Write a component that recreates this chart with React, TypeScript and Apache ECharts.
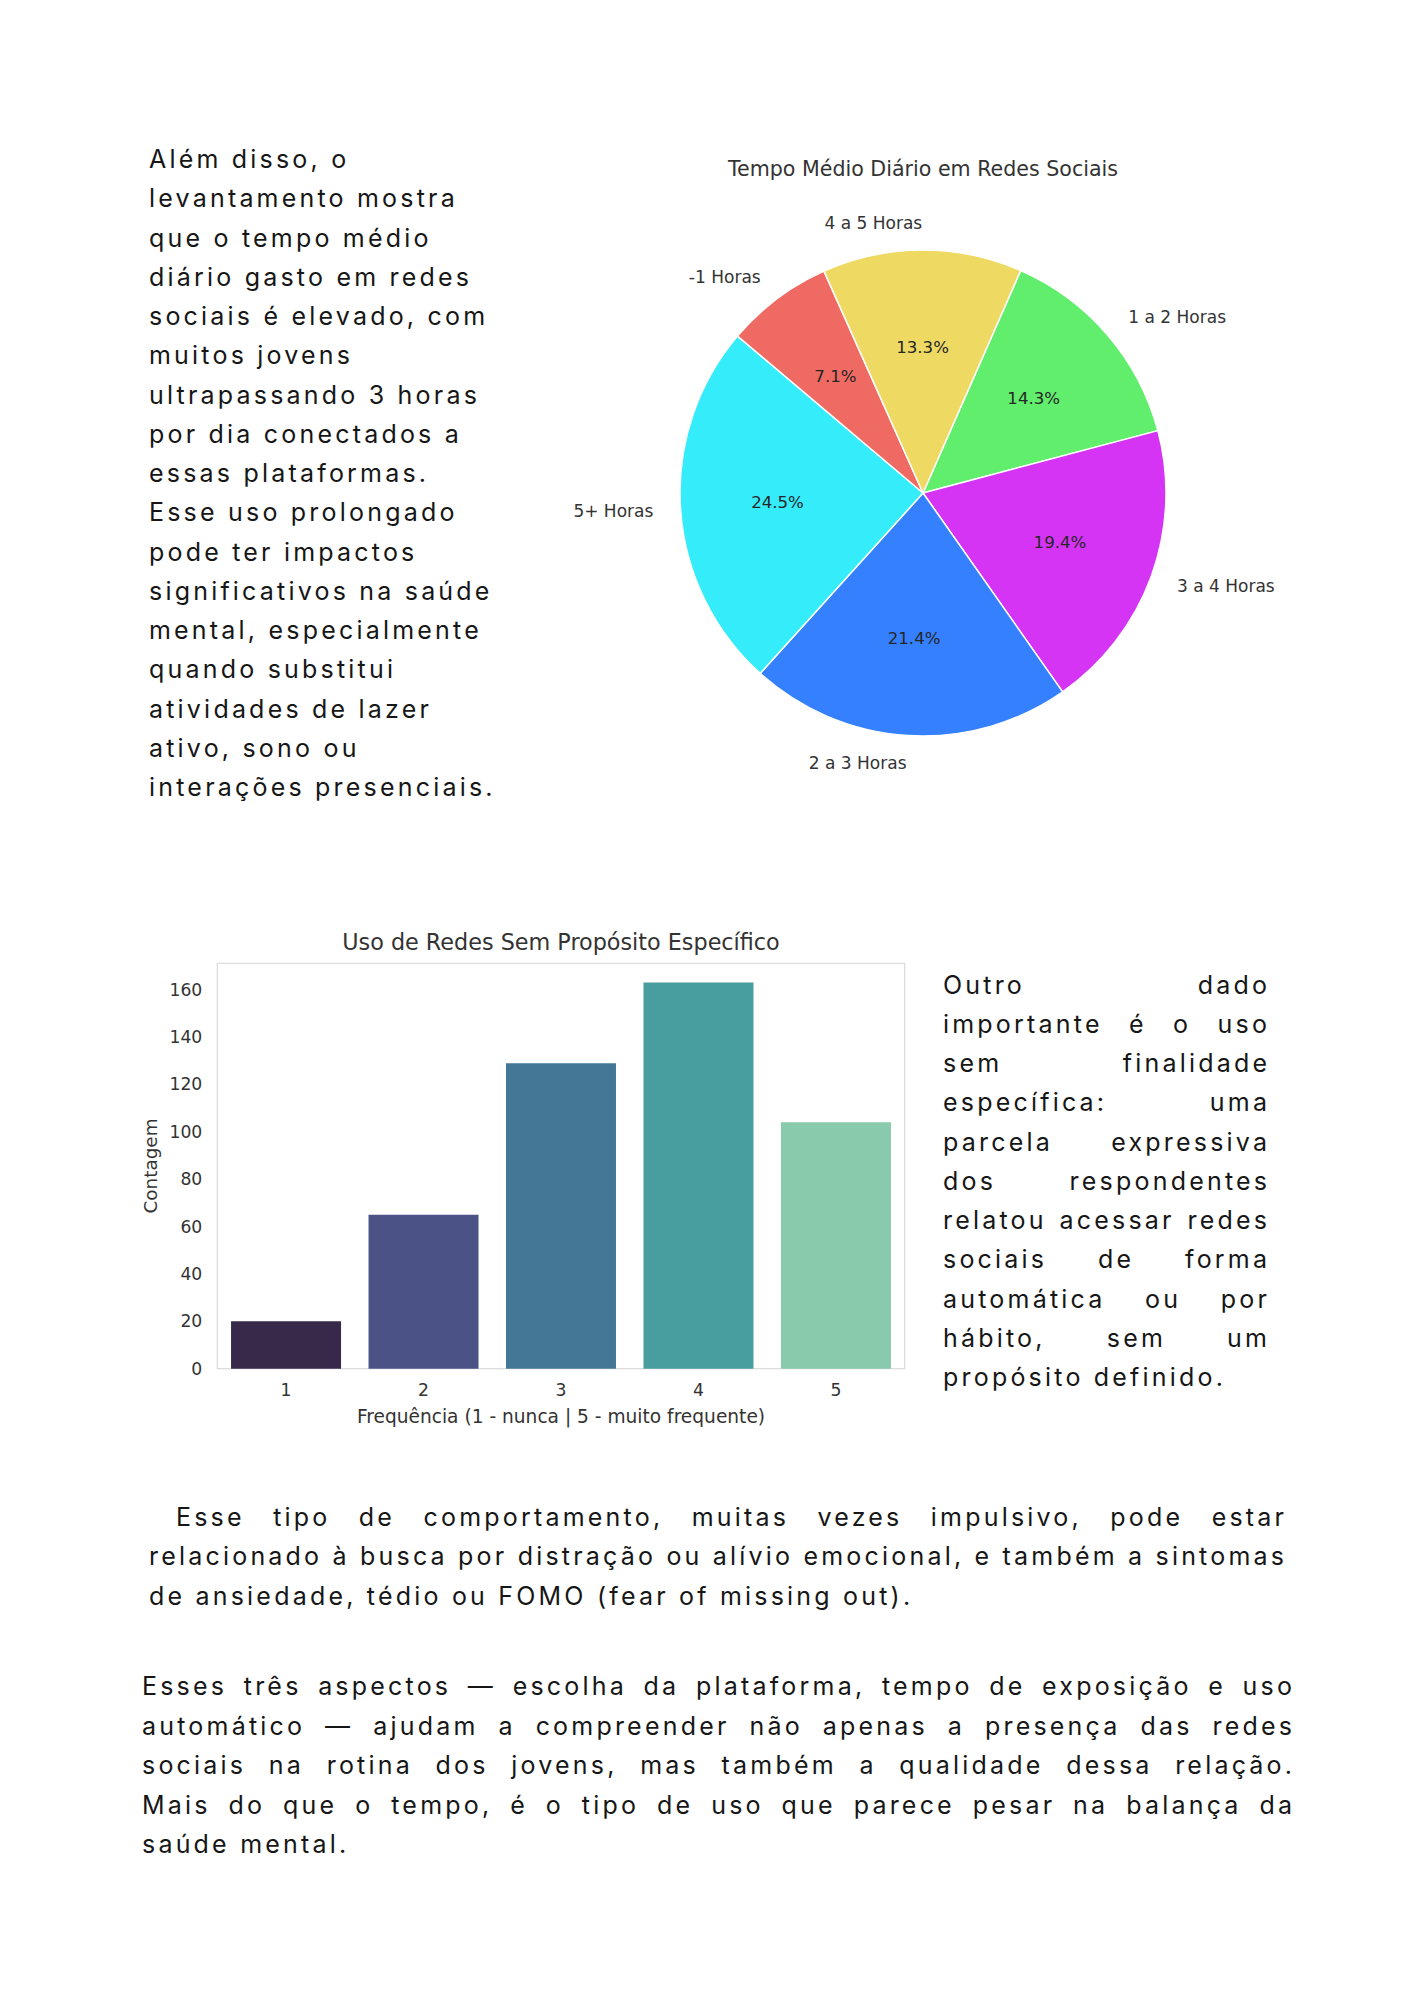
import React, { useEffect, useRef } from 'react';
import * as echarts from 'echarts';

// ---------- data ----------
const pieTitle = 'Tempo Médio Diário em Redes Sociais';
const pieCategories = ['1 a 2 Horas', '3 a 4 Horas', '2 a 3 Horas', '5+ Horas', '-1 Horas', '4 a 5 Horas'];
const pieCounts = [14, 19, 21, 24, 7, 13];
const pieColors = ['#60EE6C', '#D634F5', '#3580FF', '#35ECFA', '#EF6A62', '#EED963'];

const barTitle = 'Uso de Redes Sem Propósito Específico';
const barCategories = ['1', '2', '3', '4', '5'];
const barCounts = [20, 65, 129, 163, 104];
const barColors = ['#36294A', '#4A5286', '#447796', '#489E9E', '#88CAAB'];
const barXName = 'Frequência (1 - nunca | 5 - muito frequente)';
const barYName = 'Contagem';
const yTickStep = 20;

const leftLines = [
  'Além disso, o',
  'levantamento mostra',
  'que o tempo médio',
  'diário gasto em redes',
  'sociais é elevado, com',
  'muitos jovens',
  'ultrapassando 3 horas',
  'por dia conectados a',
  'essas plataformas.',
  'Esse uso prolongado',
  'pode ter impactos',
  'significativos na saúde',
  'mental, especialmente',
  'quando substitui',
  'atividades de lazer',
  'ativo, sono ou',
  'interações presenciais.',
];

const rightLines = [
  'Outro dado',
  'importante é o uso',
  'sem finalidade',
  'específica: uma',
  'parcela expressiva',
  'dos respondentes',
  'relatou acessar redes',
  'sociais de forma',
  'automática ou por',
  'hábito, sem um',
  'propósito definido.',
];

const para1Lines = [
  'Esse tipo de comportamento, muitas vezes impulsivo, pode estar',
  'relacionado à busca por distração ou alívio emocional, e também a sintomas',
  'de ansiedade, tédio ou FOMO (fear of missing out).',
];

const para2Lines = [
  'Esses três aspectos — escolha da plataforma, tempo de exposição e uso',
  'automático — ajudam a compreender não apenas a presença das redes',
  'sociais na rotina dos jovens, mas também a qualidade dessa relação.',
  'Mais do que o tempo, é o tipo de uso que parece pesar na balança da',
  'saúde mental.',
];

// ---------- text styling ----------
const FS = 25;
const LS = 3.2;

function Block(props: {
  lines: string[];
  left: number;
  top: number;
  width: number;
  justify: boolean;
  indent?: number;
  lh: number;
}) {
  const { lines, left, top, width, justify, indent = 0, lh } = props;
  return (
    <div
      style={{
        fontFamily: 'Inter, "Noto Sans", sans-serif',
        fontSize: FS,
        letterSpacing: LS,
        lineHeight: `${lh}px`,
        color: '#161616',
        whiteSpace: 'nowrap',
        position: 'absolute',
        left,
        top,
        width: width + LS,
      }}
    >
      {lines.map((l, i) => {
        const last = i === lines.length - 1;
        const j = justify && !last;
        return (
          <div
            key={i}
            style={{
              height: lh,
              paddingLeft: i === 0 ? indent : 0,
              textAlign: j ? 'justify' : 'left',
              textAlignLast: j ? 'justify' : 'left',
              whiteSpace: j ? 'normal' : 'nowrap',
            }}
          >
            {l}
          </div>
        );
      })}
    </div>
  );
}

export default function App() {
  const ref = useRef<HTMLDivElement>(null);

  useEffect(() => {
    const el = ref.current;
    if (!el) return;
    const chart = echarts.init(el, undefined, { renderer: 'svg' });
    const total = pieCounts.reduce((a, b) => a + b, 0);
    const R = 243;
    const cx = 923;
    const cy = 493;
    const yMax = Math.max(...barCounts) * 1.05;
    const pieData = pieCategories.map((n, i) => ({
      name: n,
      value: pieCounts[i],
      itemStyle: { color: pieColors[i] },
    }));

    chart.setOption({
      animation: false,
      textStyle: { fontFamily: '"DejaVu Sans"' },
      graphic: [
        {
          type: 'text',
          x: cx,
          y: 168.5,
          style: {
            text: pieTitle,
            font: '20.6px "DejaVu Sans"',
            fill: '#333',
            align: 'center',
            verticalAlign: 'middle',
          },
        },
        {
          type: 'text',
          x: 561,
          y: 942,
          style: {
            text: barTitle,
            font: '22.3px "DejaVu Sans"',
            fill: '#333',
            align: 'center',
            verticalAlign: 'middle',
          },
        },
      ],
      grid: {
        left: 217.3,
        top: 963.3,
        width: 687.4,
        height: 405.4,
        show: true,
        borderColor: '#dcdcdc',
        borderWidth: 1.3,
        backgroundColor: '#fff',
      },
      xAxis: {
        type: 'category',
        data: barCategories,
        axisLine: { show: false },
        axisTick: { show: false },
        axisLabel: { fontSize: 17.2, color: '#333', margin: 13 },
        name: barXName,
        nameLocation: 'middle',
        nameGap: 38,
        nameTextStyle: { fontSize: 18.6, color: '#333' },
        splitLine: { show: false },
      },
      yAxis: {
        type: 'value',
        min: 0,
        max: yMax,
        interval: yTickStep,
        axisLine: { show: false },
        axisTick: { show: false },
        splitLine: { show: false },
        axisLabel: {
          fontSize: 17.2,
          color: '#333',
          margin: 15,
          showMaxLabel: false,
          formatter: (v: number) => (Math.abs(v % yTickStep) < 1e-6 ? String(v) : ''),
        },
        name: barYName,
        nameLocation: 'middle',
        nameGap: 58,
        nameRotate: 90,
        nameTextStyle: { fontSize: 18.4, color: '#333' },
      },
      series: [
        {
          type: 'pie',
          center: [cx, cy],
          radius: R,
          startAngle: 66.3,
          clockwise: true,
          avoidLabelOverlap: false,
          silent: true,
          data: pieData,
          itemStyle: { borderColor: '#fff', borderWidth: 1.5 },
          label: {
            show: true,
            position: 'outside',
            formatter: '{b}',
            fontSize: 17,
            color: '#333',
            distanceToLabelLine: 0,
          },
          labelLine: { show: false, length: R * 0.1 + 3, length2: 0 },
          emphasis: { disabled: true },
        },
        {
          type: 'pie',
          center: [cx, cy],
          radius: [0, 2 * (0.6 * R - 3)],
          startAngle: 66.3,
          clockwise: true,
          avoidLabelOverlap: false,
          silent: true,
          z: 5,
          data: pieData.map((d) => ({ ...d, itemStyle: { color: 'rgba(0,0,0,0)' } })),
          itemStyle: { borderWidth: 0 },
          label: {
            show: true,
            position: 'inside',
            formatter: (p: any) => ((p.value / total) * 100).toFixed(1) + '%',
            fontSize: 16.6,
            color: '#262626',
          },
          labelLine: { show: false },
          emphasis: { disabled: true },
        },
        {
          type: 'bar',
          barCategoryGap: '20%',
          silent: true,
          data: barCounts.map((v, i) => ({ value: v, itemStyle: { color: barColors[i] } })),
        },
      ],
    });
    return () => chart.dispose();
  }, []);

  return (
    <div
      style={{
        position: 'absolute',
        left: 0,
        top: 0,
        width: 1414,
        height: 2000,
        background: '#fff',
        overflow: 'hidden',
      }}
    >
      <div ref={ref} style={{ position: 'absolute', left: 0, top: 0, width: 1414, height: 2000 }} />
      <Block lines={leftLines} left={149} top={140} width={360} justify={false} lh={39.25} />
      <Block lines={rightLines} left={943} top={965.5} width={324} justify={true} lh={39.25} />
      <Block lines={para1Lines} left={149} top={1497.5} width={1135} justify={true} indent={27} lh={39.6} />
      <Block lines={para2Lines} left={142} top={1667} width={1150} justify={true} lh={39.6} />
    </div>
  );
}
